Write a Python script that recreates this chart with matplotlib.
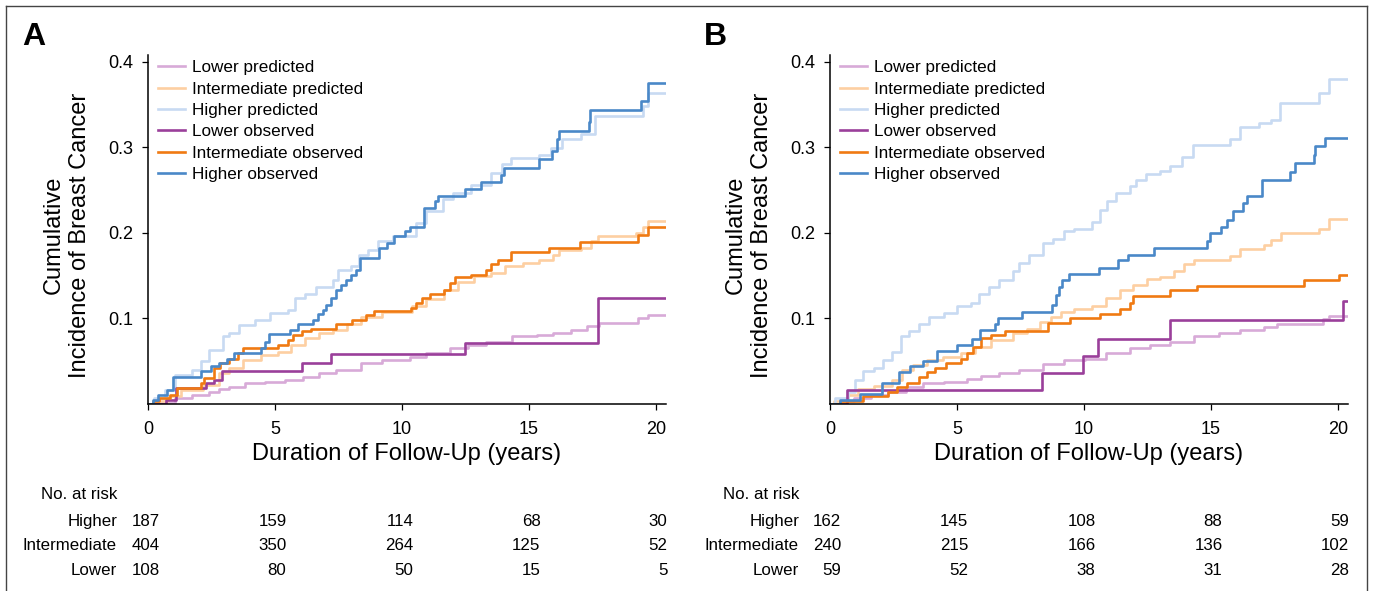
import matplotlib
matplotlib.use("Agg")
import matplotlib.pyplot as plt
from matplotlib.lines import Line2D
import matplotlib.transforms as mtransforms

plt.rcParams['font.family'] = ['Liberation Sans', 'DejaVu Sans']

# ---- data: step curves, times (years) and cumulative incidence ----
# panel A
a_low_pred_t = [0, 0.5, 1.05, 1.75, 2.4, 2.8, 3.2, 3.8, 4.6, 5.4, 6.1, 6.75, 7.4, 8.4, 9.2, 10.3,
                10.95, 11.9, 12.6, 13.3, 14.35, 15.3, 15.95, 16.65, 17.3, 17.75, 19.3, 19.7, 20.35]
a_low_pred_y = [0, 0.001, 0.007, 0.011, 0.014, 0.018, 0.020, 0.024, 0.026, 0.028, 0.032, 0.036, 0.040,
                0.048, 0.051, 0.055, 0.059, 0.065, 0.069, 0.073, 0.079, 0.081, 0.083, 0.087, 0.091,
                0.095, 0.100, 0.104, 0.104]
a_int_pred_t = [0, 0.25, 0.8, 1.3, 2.15, 2.8, 3.2, 3.75, 4.45, 5.1, 5.65, 6.2, 6.75, 7.3, 7.85, 8.4,
                9.2, 10.4, 10.95, 11.65, 12.2, 12.85, 13.5, 14.05, 14.75, 15.4, 15.95, 16.2, 17.05,
                17.45, 17.7, 19.2, 19.5, 19.7, 20.35]
a_int_pred_y = [0, 0.004, 0.009, 0.016, 0.022, 0.036, 0.042, 0.051, 0.057, 0.061, 0.069, 0.077, 0.083,
                0.087, 0.094, 0.102, 0.108, 0.114, 0.123, 0.133, 0.142, 0.149, 0.153, 0.161, 0.165,
                0.168, 0.174, 0.180, 0.182, 0.190, 0.196, 0.200, 0.207, 0.214, 0.214]
a_high_pred_t = [0, 0.25, 0.65, 1.05, 1.75, 2.1, 2.4, 2.95, 3.2, 3.6, 4.2, 4.8, 5.5, 5.8, 6.2, 6.6,
                 7.3, 7.5, 8.0, 8.3, 8.65, 9.05, 9.65, 10.55, 10.95, 11.6, 12.0, 12.7, 13.5, 13.95,
                 14.3, 15.4, 15.85, 16.3, 17.05, 17.6, 19.5, 19.7, 20.35]
a_high_pred_y = [0, 0.007, 0.016, 0.034, 0.040, 0.050, 0.063, 0.079, 0.083, 0.092, 0.098, 0.106,
                 0.110, 0.124, 0.129, 0.137, 0.145, 0.157, 0.161, 0.174, 0.180, 0.190, 0.196, 0.211,
                 0.225, 0.239, 0.246, 0.256, 0.270, 0.280, 0.287, 0.291, 0.299, 0.309, 0.315, 0.336,
                 0.348, 0.363, 0.363]
a_low_obs_t = [0, 0.7, 1.12, 2.3, 2.6, 2.9, 6.07, 7.2, 12.5, 17.7, 20.35]
a_low_obs_y = [0, 0.005, 0.019, 0.024, 0.028, 0.038, 0.048, 0.058, 0.071, 0.124, 0.124]
a_int_obs_t = [0, 0.2, 0.45, 0.85, 1.15, 2.1, 2.2, 2.6, 2.85, 3.2, 3.55, 3.75, 5.1, 5.5, 5.7, 6.05,
               6.4, 7.4, 8.05, 8.6, 8.9, 10.35, 10.55, 10.8, 11.1, 11.65, 11.9, 12.1, 12.7, 13.3,
               13.5, 13.8, 14.3, 15.8, 17.0, 19.3, 19.7, 20.35]
a_int_obs_y = [0, 0.003, 0.007, 0.011, 0.019, 0.024, 0.030, 0.042, 0.048, 0.052, 0.059, 0.065, 0.069,
               0.075, 0.081, 0.085, 0.088, 0.094, 0.098, 0.104, 0.109, 0.112, 0.118, 0.124, 0.129,
               0.133, 0.141, 0.148, 0.151, 0.157, 0.163, 0.168, 0.177, 0.182, 0.189, 0.198, 0.207,
               0.207]
a_high_obs_t = [0, 0.2, 0.4, 0.76, 1.0, 2.1, 2.5, 2.8, 3.1, 3.4, 4.45, 4.6, 4.75, 5.6, 5.9, 6.5, 6.7,
                6.9, 7.0, 7.2, 7.4, 7.6, 7.8, 8.0, 8.2, 8.35, 9.1, 9.4, 9.7, 10.1, 10.3, 10.85, 11.3,
                11.4, 12.5, 13.1, 13.9, 14.0, 15.4, 15.9, 16.1, 16.2, 17.35, 17.4, 19.4, 19.7, 20.35]
a_high_obs_y = [0, 0.005, 0.010, 0.016, 0.032, 0.038, 0.044, 0.048, 0.053, 0.059, 0.065, 0.073,
                0.082, 0.087, 0.093, 0.098, 0.105, 0.110, 0.116, 0.124, 0.133, 0.139, 0.145, 0.151,
                0.157, 0.170, 0.182, 0.188, 0.196, 0.202, 0.207, 0.229, 0.237, 0.243, 0.251, 0.259,
                0.267, 0.276, 0.286, 0.295, 0.309, 0.319, 0.330, 0.344, 0.354, 0.375, 0.375]

# panel B
b_low_pred_t = [0, 0.4, 0.95, 1.6, 2.3, 3.0, 3.65, 4.5, 5.4, 5.95, 6.65, 7.45, 8.4, 9.2, 10.05,
                10.85, 11.8, 12.6, 13.4, 14.35, 15.3, 16.15, 17.1, 17.6, 19.4, 19.65, 20.35]
b_low_pred_y = [0, 0.003, 0.007, 0.011, 0.014, 0.020, 0.024, 0.026, 0.029, 0.033, 0.036, 0.040,
                0.047, 0.051, 0.053, 0.059, 0.065, 0.069, 0.073, 0.080, 0.083, 0.087, 0.090, 0.094,
                0.099, 0.103, 0.103]
b_int_pred_t = [0, 0.15, 0.7, 1.1, 1.75, 2.45, 2.85, 3.25, 3.8, 4.45, 5.15, 5.7, 6.35, 7.2, 7.75,
                8.25, 8.7, 9.1, 9.6, 10.3, 10.85, 11.4, 11.95, 12.5, 13.0, 13.55, 13.95, 14.35,
                15.75, 16.15, 17.1, 17.35, 17.75, 19.25, 19.65, 20.35]
b_int_pred_y = [0, 0.003, 0.011, 0.018, 0.021, 0.028, 0.040, 0.046, 0.051, 0.055, 0.059, 0.067,
                0.075, 0.083, 0.088, 0.096, 0.102, 0.108, 0.111, 0.114, 0.124, 0.133, 0.139, 0.146,
                0.148, 0.155, 0.163, 0.168, 0.173, 0.181, 0.186, 0.192, 0.200, 0.205, 0.216, 0.216]
b_high_pred_t = [0, 0.2, 0.7, 1.0, 1.3, 1.75, 2.1, 2.45, 2.8, 3.1, 3.5, 3.9, 4.5, 5.0, 5.55, 5.85,
                 6.25, 6.65, 7.2, 7.45, 7.85, 8.4, 8.8, 9.2, 9.6, 10.3, 10.65, 10.9, 11.25, 11.8,
                 12.05, 12.45, 13.0, 13.4, 13.85, 14.3, 15.75, 16.15, 16.9, 17.35, 17.7, 19.25,
                 19.65, 20.35]
b_high_pred_y = [0, 0.007, 0.014, 0.028, 0.038, 0.042, 0.051, 0.061, 0.079, 0.085, 0.094, 0.102,
                 0.106, 0.114, 0.118, 0.129, 0.137, 0.145, 0.155, 0.165, 0.174, 0.188, 0.193, 0.202,
                 0.205, 0.213, 0.227, 0.237, 0.246, 0.255, 0.262, 0.269, 0.272, 0.278, 0.289, 0.302,
                 0.309, 0.324, 0.328, 0.332, 0.352, 0.363, 0.380, 0.380]
b_low_obs_t = [0, 0.65, 8.35, 9.95, 10.55, 13.4, 20.2, 20.35]
b_low_obs_y = [0, 0.016, 0.036, 0.056, 0.076, 0.098, 0.120, 0.120]
b_int_obs_t = [0, 0.4, 1.3, 2.3, 2.65, 3.05, 3.5, 3.8, 4.15, 4.55, 5.15, 5.4, 5.65, 5.95, 6.35,
               6.9, 8.6, 9.45, 10.65, 11.4, 11.8, 11.95, 13.4, 14.45, 18.65, 20.05, 20.35]
b_int_obs_y = [0, 0.003, 0.009, 0.014, 0.020, 0.025, 0.031, 0.037, 0.042, 0.048, 0.053, 0.059,
               0.067, 0.077, 0.081, 0.085, 0.095, 0.100, 0.105, 0.111, 0.118, 0.126, 0.133, 0.138,
               0.145, 0.151, 0.151]
b_high_obs_t = [0, 0.4, 1.2, 2.05, 2.7, 3.15, 3.65, 4.2, 5.0, 5.6, 5.9, 6.5, 6.6, 7.55, 8.75, 8.9,
                9.0, 9.15, 9.4, 10.6, 11.35, 11.75, 12.75, 14.85, 14.95, 15.4, 15.65, 15.85, 16.25,
                16.4, 17.0, 18.1, 18.3, 19.05, 19.1, 19.5, 20.35]
b_high_obs_y = [0, 0.005, 0.012, 0.024, 0.037, 0.044, 0.050, 0.062, 0.069, 0.076, 0.087, 0.094,
                0.101, 0.108, 0.116, 0.127, 0.137, 0.145, 0.152, 0.159, 0.168, 0.174, 0.182, 0.190,
                0.200, 0.207, 0.215, 0.225, 0.235, 0.243, 0.262, 0.271, 0.281, 0.291, 0.301, 0.311,
                0.311]

# numbers at risk
risk_times = [0, 5, 10, 15, 20]
risk_groups = ["Higher", "Intermediate", "Lower"]
a_risk = [[187, 159, 114, 68, 30], [404, 350, 264, 125, 52], [108, 80, 50, 15, 5]]
b_risk = [[162, 145, 108, 88, 59], [240, 215, 166, 136, 102], [59, 52, 38, 31, 28]]

labels = ["Lower predicted", "Intermediate predicted", "Higher predicted",
          "Lower observed", "Intermediate observed", "Higher observed"]
colors = ["#d8aad8", "#fdcfa2", "#c8daf2", "#9a3f9a", "#f07a12", "#4a88c8"]

panels = [
    ("A", 148, [(a_low_pred_t, a_low_pred_y), (a_int_pred_t, a_int_pred_y),
                (a_high_pred_t, a_high_pred_y), (a_low_obs_t, a_low_obs_y),
                (a_int_obs_t, a_int_obs_y), (a_high_obs_t, a_high_obs_y)], a_risk),
    ("B", 830, [(b_low_pred_t, b_low_pred_y), (b_int_pred_t, b_int_pred_y),
                (b_high_pred_t, b_high_pred_y), (b_low_obs_t, b_low_obs_y),
                (b_int_obs_t, b_int_obs_y), (b_high_obs_t, b_high_obs_y)], b_risk),
]

W, H = 1374, 591
fig = plt.figure(figsize=(W / 100, H / 100), dpi=100)

# outer frame (open at the bottom)
for xs, ys in [([5.5, 5.5], [0, 5.5]), ([5.5, 1367], [5.5, 5.5]), ([1367, 1367], [5.5, 0])]:
    fig.add_artist(Line2D([x / W for x in xs], [1 - y / H if y else 0 for y in ys],
                          color="#444444", lw=1.0))

for letter, left_px, series, risk in panels:
    ax = fig.add_axes([left_px / W, (H - 404) / H, 517.6 / W, 349 / H])
    for (t, y), c, lab in zip(series, colors, labels):
        ax.step(t, y, where="post", color=c, lw=1.9, label=lab)
    ax.set_xlim(0, 20.38)
    ax.set_ylim(0, 0.4077)
    ax.set_xticks([0, 5, 10, 15, 20])
    ax.set_yticks([0.1, 0.2, 0.3, 0.4])
    ax.set_yticklabels(["0.1", "0.2", "0.3", "0.4"])
    for s in ["top", "right"]:
        ax.spines[s].set_visible(False)
    for s in ["left", "bottom"]:
        ax.spines[s].set_linewidth(1.1)
    ax.tick_params(axis="both", direction="out", length=4.5, width=0.9, labelsize=13)
    ax.tick_params(axis="x", pad=8)
    ax.tick_params(axis="y", pad=6)
    ax.set_xlabel("Duration of Follow-Up (years)", fontsize=17, labelpad=3)
    ax.legend(loc="upper left", bbox_to_anchor=(0.019, 0.985), frameon=False, fontsize=12.3,
              handlelength=1.6, handletextpad=0.4, labelspacing=0.37, borderaxespad=0,
              borderpad=0)

    off = (left_px - 148) / W
    fig.text(67 / W + off, 0.6024, "Cumulative\nIncidence of Breast Cancer", rotation=90,
             ha="center", va="center", fontsize=17, linespacing=1.25, multialignment="center")
    fig.text(22 / W + off, 1 - 45 / H, letter, fontsize=23, fontweight="bold", va="baseline")

    # number at risk table
    tr = mtransforms.blended_transform_factory(ax.transData, fig.transFigure)
    ax.text(-1.22, 1 - 499 / H, "No. at risk", transform=tr, ha="right", va="baseline",
            fontsize=12.2, clip_on=False)
    for row, (grp, vals) in enumerate(zip(risk_groups, risk)):
        yb = 1 - (526 + 24.5 * row) / H
        ax.text(-1.22, yb, grp, transform=tr, ha="right", va="baseline", fontsize=12.2,
                clip_on=False)
        for t, v in zip(risk_times, vals):
            ax.text(t + 0.45, yb, str(v), transform=tr, ha="right", va="baseline",
                    fontsize=12.2, clip_on=False)

fig.savefig("out.png", dpi=100)
